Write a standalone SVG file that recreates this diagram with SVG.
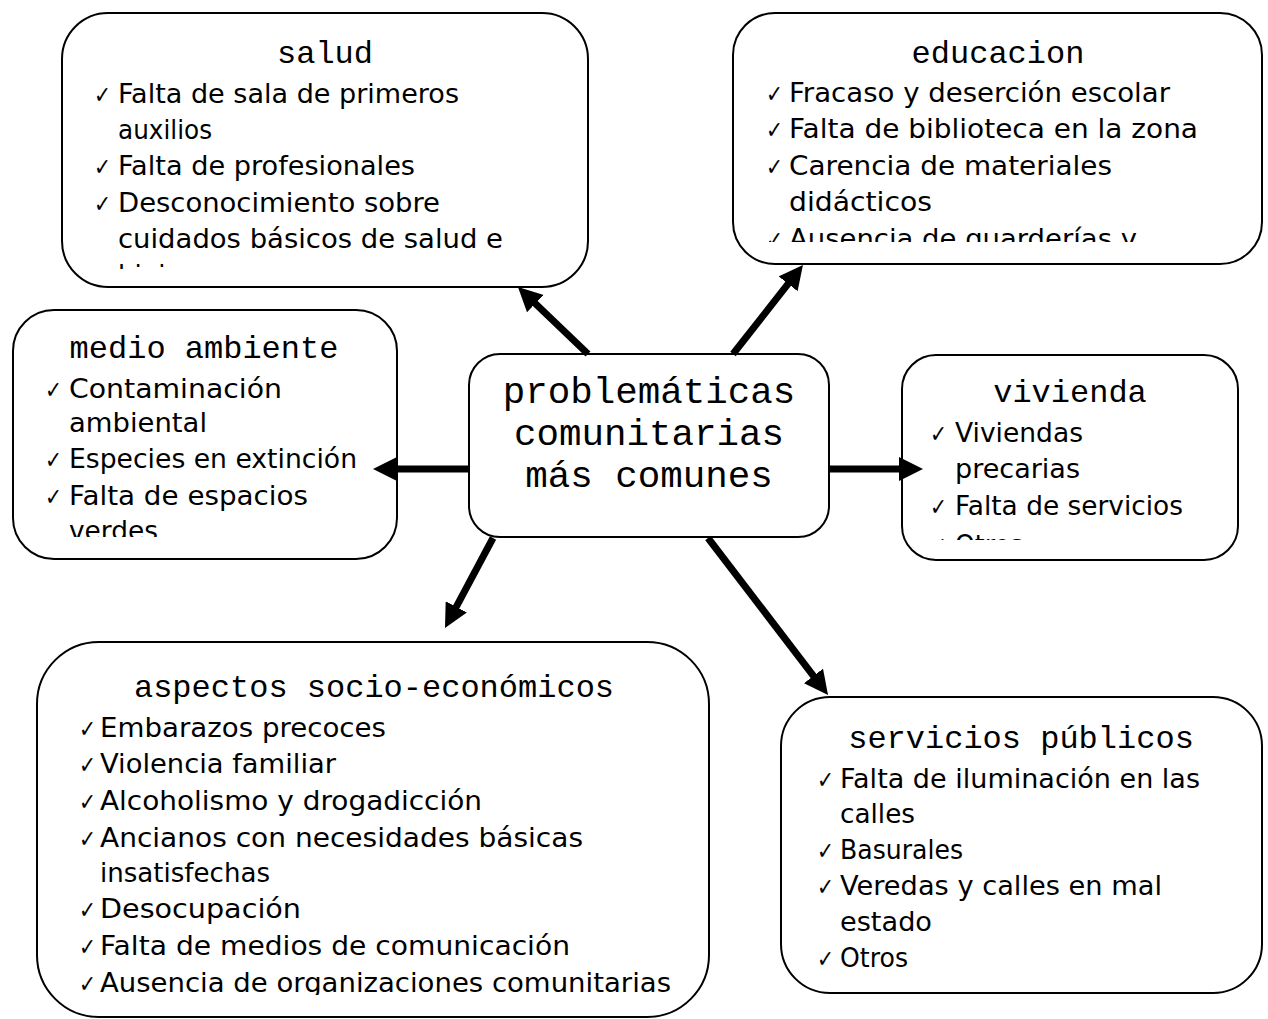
<svg xmlns="http://www.w3.org/2000/svg" width="1268" height="1019" viewBox="0 0 1268 1019">
<style>
.box{fill:#fff;stroke:#000;stroke-width:2}
.t{font-family:"Liberation Mono","Courier New",monospace;font-size:32px;fill:#000;text-anchor:middle}
.b{font-family:"DejaVu Sans","Liberation Sans",sans-serif;font-size:26px;fill:#000}
.ck{font-family:"DejaVu Sans","Liberation Sans",sans-serif;font-size:24px;fill:#000}
.conn line{stroke:#000;stroke-width:7;marker-end:url(#ah)}
</style>
<defs>
<marker id="ah" markerUnits="userSpaceOnUse" viewBox="0 0 24 24" refX="4" refY="12" markerWidth="24" markerHeight="24" orient="auto">
<path d="M0,0 L24,12 L0,24 z" fill="#000"/>
</marker>
<clipPath id="cSalud"><rect x="62" y="13" width="526" height="256"/></clipPath>
<clipPath id="cEdu"><rect x="733" y="13" width="529" height="229"/></clipPath>
<clipPath id="cMedio"><rect x="13" y="310" width="384" height="227"/></clipPath>
<clipPath id="cViv"><rect x="902" y="355" width="336" height="185"/></clipPath>
<clipPath id="cAsp"><rect x="37" y="642" width="672" height="353"/></clipPath>
</defs>

<g id="salud">
<rect class="box" x="62" y="13" width="526" height="274" rx="46" ry="46"/>
<g clip-path="url(#cSalud)">
<text class="t" x="325" y="63">salud</text>
<text class="ck" x="94" y="103" textLength="17" lengthAdjust="spacingAndGlyphs">✓</text>
<text class="b" x="118" y="103" textLength="341" lengthAdjust="spacingAndGlyphs">Falta de sala de primeros</text>
<text class="b" x="118" y="139" textLength="94" lengthAdjust="spacingAndGlyphs">auxilios</text>
<text class="ck" x="94" y="175" textLength="17" lengthAdjust="spacingAndGlyphs">✓</text>
<text class="b" x="118" y="175" textLength="297" lengthAdjust="spacingAndGlyphs">Falta de profesionales</text>
<text class="ck" x="94" y="212" textLength="17" lengthAdjust="spacingAndGlyphs">✓</text>
<text class="b" x="118" y="212" textLength="322" lengthAdjust="spacingAndGlyphs">Desconocimiento sobre</text>
<text class="b" x="118" y="248" textLength="385" lengthAdjust="spacingAndGlyphs">cuidados básicos de salud e</text>
<text class="b" x="118" y="284">higiene</text>
</g>
</g>

<g id="educacion">
<rect class="box" x="733" y="13" width="529" height="251" rx="42" ry="42"/>
<g clip-path="url(#cEdu)">
<text class="t" x="998" y="63">educacion</text>
<text class="ck" x="766" y="102" textLength="17" lengthAdjust="spacingAndGlyphs">✓</text>
<text class="b" x="789" y="102" textLength="381" lengthAdjust="spacingAndGlyphs">Fracaso y deserción escolar</text>
<text class="ck" x="766" y="138" textLength="17" lengthAdjust="spacingAndGlyphs">✓</text>
<text class="b" x="789" y="138" textLength="409" lengthAdjust="spacingAndGlyphs">Falta de biblioteca en la zona</text>
<text class="ck" x="766" y="175" textLength="17" lengthAdjust="spacingAndGlyphs">✓</text>
<text class="b" x="789" y="175" textLength="323" lengthAdjust="spacingAndGlyphs">Carencia de materiales</text>
<text class="b" x="789" y="211" textLength="143" lengthAdjust="spacingAndGlyphs">didácticos</text>
<text class="ck" x="766" y="248" textLength="17" lengthAdjust="spacingAndGlyphs">✓</text>
<text class="b" x="789" y="248" textLength="348" lengthAdjust="spacingAndGlyphs">Ausencia de guarderías y</text>
</g>
</g>

<g id="medio-ambiente">
<rect class="box" x="13" y="310" width="384" height="249" rx="41" ry="41"/>
<g clip-path="url(#cMedio)">
<text class="t" x="204" y="358">medio ambiente</text>
<text class="ck" x="45" y="398" textLength="17" lengthAdjust="spacingAndGlyphs">✓</text>
<text class="b" x="69" y="398" textLength="213" lengthAdjust="spacingAndGlyphs">Contaminación</text>
<text class="b" x="69" y="432" textLength="138" lengthAdjust="spacingAndGlyphs">ambiental</text>
<text class="ck" x="45" y="468" textLength="17" lengthAdjust="spacingAndGlyphs">✓</text>
<text class="b" x="69" y="468" textLength="288" lengthAdjust="spacingAndGlyphs">Especies en extinción</text>
<text class="ck" x="45" y="505" textLength="17" lengthAdjust="spacingAndGlyphs">✓</text>
<text class="b" x="69" y="505" textLength="239" lengthAdjust="spacingAndGlyphs">Falta de espacios</text>
<text class="b" x="69" y="540" textLength="89" lengthAdjust="spacingAndGlyphs">verdes</text>
</g>
</g>

<g id="centro">
<rect class="box" x="469" y="354" width="360" height="183" rx="31" ry="31"/>
<text class="t" x="649" y="403" style="font-size:37.5px">problemáticas</text>
<text class="t" x="649" y="445" style="font-size:37.5px">comunitarias</text>
<text class="t" x="649" y="487" style="font-size:37.5px">más comunes</text>
</g>

<g id="vivienda">
<rect class="box" x="902" y="355" width="336" height="205" rx="34" ry="34"/>
<g clip-path="url(#cViv)">
<text class="t" x="1070" y="402">vivienda</text>
<text class="ck" x="930" y="442" textLength="17" lengthAdjust="spacingAndGlyphs">✓</text>
<text class="b" x="955" y="442" textLength="128" lengthAdjust="spacingAndGlyphs">Viviendas</text>
<text class="b" x="955" y="478" textLength="125" lengthAdjust="spacingAndGlyphs">precarias</text>
<text class="ck" x="930" y="515" textLength="17" lengthAdjust="spacingAndGlyphs">✓</text>
<text class="b" x="955" y="515" textLength="228" lengthAdjust="spacingAndGlyphs">Falta de servicios</text>
<text class="ck" x="930" y="554" textLength="17" lengthAdjust="spacingAndGlyphs">✓</text>
<text class="b" x="955" y="554" textLength="68" lengthAdjust="spacingAndGlyphs">Otros</text>
</g>
</g>

<g id="aspectos">
<rect class="box" x="37" y="642" width="672" height="375" rx="62" ry="62"/>
<g clip-path="url(#cAsp)">
<text class="t" x="374" y="697">aspectos socio-económicos</text>
<text class="ck" x="79" y="737" textLength="17" lengthAdjust="spacingAndGlyphs">✓</text>
<text class="b" x="100" y="737" textLength="286" lengthAdjust="spacingAndGlyphs">Embarazos precoces</text>
<text class="ck" x="79" y="773" textLength="17" lengthAdjust="spacingAndGlyphs">✓</text>
<text class="b" x="100" y="773" textLength="236" lengthAdjust="spacingAndGlyphs">Violencia familiar</text>
<text class="ck" x="79" y="810" textLength="17" lengthAdjust="spacingAndGlyphs">✓</text>
<text class="b" x="100" y="810" textLength="382" lengthAdjust="spacingAndGlyphs">Alcoholismo y drogadicción</text>
<text class="ck" x="79" y="847" textLength="17" lengthAdjust="spacingAndGlyphs">✓</text>
<text class="b" x="100" y="847" textLength="483" lengthAdjust="spacingAndGlyphs">Ancianos con necesidades básicas</text>
<text class="b" x="100" y="882" textLength="170" lengthAdjust="spacingAndGlyphs">insatisfechas</text>
<text class="ck" x="79" y="918" textLength="17" lengthAdjust="spacingAndGlyphs">✓</text>
<text class="b" x="100" y="918" textLength="201" lengthAdjust="spacingAndGlyphs">Desocupación</text>
<text class="ck" x="79" y="955" textLength="17" lengthAdjust="spacingAndGlyphs">✓</text>
<text class="b" x="100" y="955" textLength="470" lengthAdjust="spacingAndGlyphs">Falta de medios de comunicación</text>
<text class="ck" x="79" y="992" textLength="17" lengthAdjust="spacingAndGlyphs">✓</text>
<text class="b" x="100" y="992" textLength="571" lengthAdjust="spacingAndGlyphs">Ausencia de organizaciones comunitarias</text>
</g>
</g>

<g id="servicios">
<rect class="box" x="781" y="697" width="481" height="296" rx="49" ry="49"/>
<text class="t" x="1021" y="748">servicios públicos</text>
<text class="ck" x="817" y="788" textLength="17" lengthAdjust="spacingAndGlyphs">✓</text>
<text class="b" x="840" y="788" textLength="360" lengthAdjust="spacingAndGlyphs">Falta de iluminación en las</text>
<text class="b" x="840" y="823" textLength="75" lengthAdjust="spacingAndGlyphs">calles</text>
<text class="ck" x="817" y="859" textLength="17" lengthAdjust="spacingAndGlyphs">✓</text>
<text class="b" x="840" y="859" textLength="123" lengthAdjust="spacingAndGlyphs">Basurales</text>
<text class="ck" x="817" y="895" textLength="17" lengthAdjust="spacingAndGlyphs">✓</text>
<text class="b" x="840" y="895" textLength="322" lengthAdjust="spacingAndGlyphs">Veredas y calles en mal</text>
<text class="b" x="840" y="931" textLength="92" lengthAdjust="spacingAndGlyphs">estado</text>
<text class="ck" x="817" y="967" textLength="17" lengthAdjust="spacingAndGlyphs">✓</text>
<text class="b" x="840" y="967" textLength="68" lengthAdjust="spacingAndGlyphs">Otros</text>
</g>

<g id="connectors" class="conn">
<line x1="588" y1="354" x2="532.4" y2="300.8"/>
<line x1="733" y1="354" x2="790.6" y2="280.7"/>
<line x1="469" y1="469" x2="393" y2="469"/>
<line x1="829" y1="469" x2="903" y2="469"/>
<line x1="493" y1="538" x2="454.4" y2="610.4"/>
<line x1="708" y1="538" x2="815.9" y2="679.1"/>
</g>
</svg>
